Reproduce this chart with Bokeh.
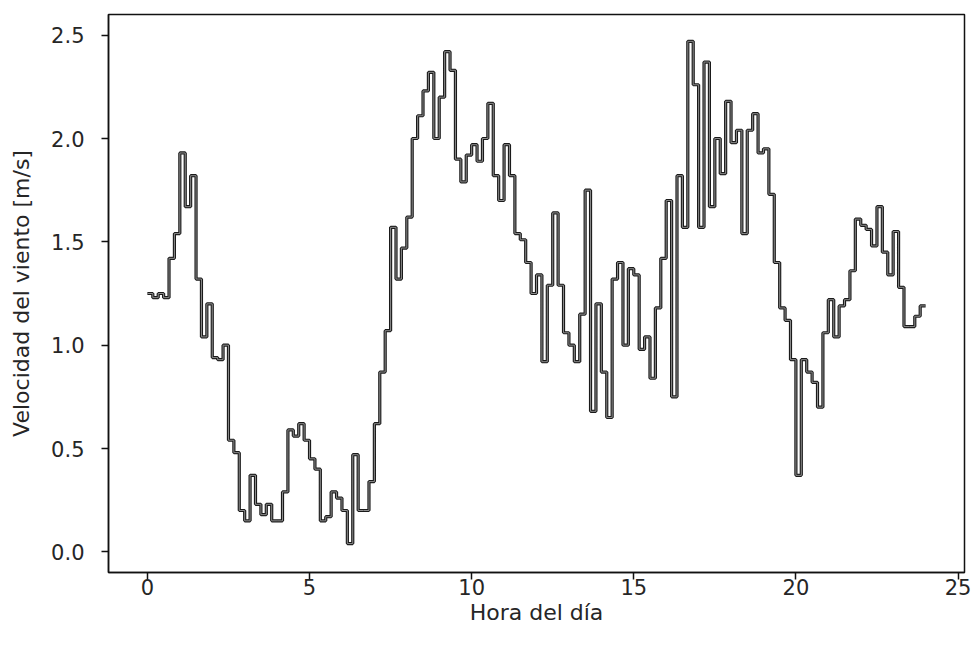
import numpy as np
from bokeh.plotting import figure
from bokeh.models import Range1d, FixedTicker, PrintfTickFormatter
from bokeh.embed import file_html
from bokeh.resources import INLINE

# 10-minute wind speed samples over one day (hours 0..24)
hours = np.arange(145) / 6.0
speed = [
    1.25,
    1.25, 1.23, 1.25, 1.23, 1.42, 1.54, 1.93, 1.67, 1.82, 1.32,
    1.04, 1.20, 0.94, 0.93, 1.00, 0.54, 0.48, 0.20, 0.15, 0.37,
    0.23, 0.18, 0.23, 0.15, 0.15, 0.29, 0.59, 0.56, 0.62, 0.54,
    0.45, 0.40, 0.15, 0.17, 0.29, 0.26, 0.20, 0.04, 0.47, 0.20,
    0.20, 0.34, 0.62, 0.87, 1.07, 1.57, 1.32, 1.47, 1.62, 2.00,
    2.11, 2.23, 2.32, 2.00, 2.20, 2.42, 2.33, 1.90, 1.79, 1.92,
    1.97, 1.89, 2.00, 2.17, 1.82, 1.70, 1.97, 1.82, 1.54, 1.51,
    1.40, 1.25, 1.34, 0.92, 1.29, 1.64, 1.29, 1.06, 1.00, 0.92,
    1.15, 1.75, 0.68, 1.20, 0.87, 0.65, 1.32, 1.40, 1.00, 1.37,
    1.34, 0.98, 1.04, 0.84, 1.18, 1.42, 1.70, 0.75, 1.82, 1.57,
    2.47, 2.26, 1.57, 2.37, 1.67, 2.00, 1.83, 2.18, 1.98, 2.04,
    1.54, 2.04, 2.12, 1.93, 1.95, 1.73, 1.40, 1.18, 1.12, 0.93,
    0.37, 0.93, 0.87, 0.82, 0.70, 1.06, 1.22, 1.04, 1.19, 1.22,
    1.36, 1.61, 1.58, 1.56, 1.48, 1.67, 1.45, 1.34, 1.55, 1.28,
    1.09, 1.09, 1.14, 1.19,
]
x_ticks = [0, 5, 10, 15, 20, 25]
y_ticks = [0.0, 0.5, 1.0, 1.5, 2.0, 2.5]

p = figure(width=974, height=649, output_backend="svg", toolbar_location=None,
           x_range=Range1d(-1.2, 25.2), y_range=Range1d(-0.1, 2.6),
           min_border_left=108, min_border_right=10, min_border_top=14,
           min_border_bottom=77)
p.background_fill_color = "white"
p.border_fill_color = "white"
p.grid.visible = False
p.outline_line_color = "#111111"
p.outline_line_width = 1.5

p.step(hours, speed, mode="before", line_color="#1a1a1a", line_width=3.2)
p.step(hours, speed, mode="before", line_color="#8c8c8c", line_width=1.0)

for ax in (p.xaxis, p.yaxis):
    ax.axis_line_color = "#111111"
    ax.axis_line_width = 1.5
    ax.major_tick_line_color = "#111111"
    ax.major_tick_line_width = 1.5
    ax.major_tick_out = 7
    ax.major_tick_in = 0
    ax.minor_tick_line_color = None
    ax.major_label_text_font = "DejaVu Sans"
    ax.major_label_text_font_size = "21px"
    ax.major_label_text_color = "#262626"
    ax.axis_label_text_font = "DejaVu Sans"
    ax.axis_label_text_font_size = "22px"
    ax.axis_label_text_font_style = "normal"
    ax.axis_label_text_color = "#262626"

p.xaxis.major_label_standoff = -1
p.yaxis.major_label_standoff = 17

p.xaxis.ticker = FixedTicker(ticks=x_ticks)
p.yaxis.ticker = FixedTicker(ticks=y_ticks)
p.yaxis.formatter = PrintfTickFormatter(format="%.1f")
p.xaxis.axis_label = "Hora del día"
p.yaxis.axis_label = "Velocidad del viento [m/s]"
p.xaxis.axis_label_standoff = 2
p.yaxis.axis_label_standoff = 14

open("out.html", "w").write(file_html(p, INLINE))
